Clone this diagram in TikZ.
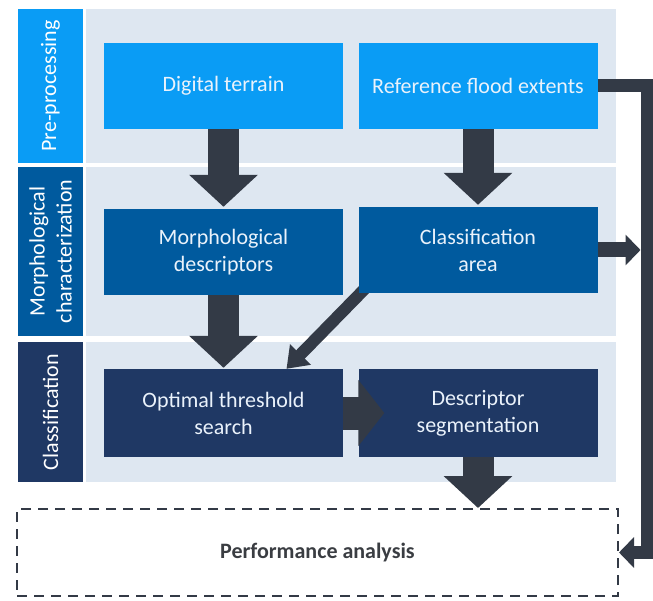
\documentclass[tikz,border=0pt]{standalone}
\usepackage{fontspec}
\setmainfont{Carlito}
\usetikzlibrary{arrows.meta}
\definecolor{prebox}{HTML}{0A9CF5}
\definecolor{morphbox}{HTML}{005A9E}
\definecolor{classbox}{HTML}{1F3864}
\definecolor{panelbg}{HTML}{DEE7F1}
\definecolor{boxtext}{HTML}{EAF2FB}
\definecolor{arrowgrey}{HTML}{333A46}
\definecolor{perftext}{HTML}{3A3D42}
\pgfdeclarelayer{back}
\pgfsetlayers{back,main}
\tikzset{
	panel/.style={fill=panelbg, minimum width=530pt, inner sep=0pt},
	bandlabel/.style={rotate=90, text=white, align=center, inner sep=0pt, minimum height=65pt},
	stepbox/.style={text=boxtext, align=center, inner sep=0pt, minimum width=239pt, minimum height=86pt},
	fatarrow/.style={draw=arrowgrey, line width=31pt, -{Triangle[width=67pt,length=32pt]}},
	railarrow/.style={draw=arrowgrey, line width=13pt, line join=miter, -{Triangle[width=30pt,length=15pt]}}
}

\begin{document}
\begin{tikzpicture}[x=1pt, y=-1pt, font=\fontsize{22}{27}\selectfont]
	%\draw [help lines] (0,0) grid (653,601);
	\useasboundingbox (0,0) rectangle (653,601);
	% bands
	\begin{pgfonlayer}{back}
		\node [panel, minimum height=154pt] (prepanel) at (351,86) {};
		\node [panel, minimum height=169pt] (morphpanel) at (351,251.5) {};
		\node [panel, minimum height=140pt] (classpanel) at (351,412) {};
	\end{pgfonlayer}
	\node [bandlabel, fill=prebox, minimum width=154pt] (prelabel) at (50.5,86) {Pre-processing};
	\node [bandlabel, fill=morphbox, minimum width=169pt] (morphlabel) at (50.5,251.5) {Morphological\\characterization};
	\node [bandlabel, fill=classbox, minimum width=140pt] (classlabel) at (50.5,412) {Classification};
	% steps
	\node [stepbox, fill=prebox] (terrain) at (223.5,86) {Digital terrain};
	\node [stepbox, fill=prebox] (floodref) at (478,86) {Reference flood extents};
	\node [stepbox, fill=morphbox] (descr) at (223.5,252) {Morphological\\descriptors};
	\node [stepbox, fill=morphbox] (area) at (478,250) {Classification\\area};
	\node [stepbox, fill=classbox, minimum height=88pt] (search) at (223.5,413) {Optimal threshold\\search};
	\node [stepbox, fill=classbox, minimum height=88pt] (segment) at (478,413) {Descriptor\\segmentation};
	\node [draw=arrowgrey, line width=2pt, dash pattern=on 10pt off 7pt, minimum width=601pt, minimum height=87pt,
		text=perftext, font=\fontsize{22}{27}\selectfont\bfseries] (perf) at (317.5,552.5) {Performance analysis};
	\coordinate (rail) at (647,0);
	% arrows
	\draw [fatarrow] (terrain.south) -- ([yshift=2pt]descr.north);
	\draw [fatarrow] (floodref.south) -- ([yshift=2pt]area.north);
	\draw [fatarrow] (descr.south) -- ([yshift=1pt]search.north);
	\draw [fatarrow] (segment.south) -- (segment.south |- perf.north);
	\draw [fatarrow, line width=33pt, -{Triangle[width=65pt,length=26pt]}] (search.east) -- ([xshift=26pt]segment.west);
	\begin{pgfonlayer}{back}
		\draw [draw=arrowgrey, line width=12pt, -{Triangle[width=28pt,length=20pt]}] ([xshift=12pt,yshift=10pt]area.south west) -- ([xshift=63pt]search.north);
	\end{pgfonlayer}
	\draw [railarrow] (floodref.east) -- (floodref.east -| rail) -- (rail |- perf.east) -- (perf.east);
	\draw [railarrow, line width=15pt, shorten >=6.5pt] (area.east) -- (area.east -| rail);
\end{tikzpicture}
\end{document}
